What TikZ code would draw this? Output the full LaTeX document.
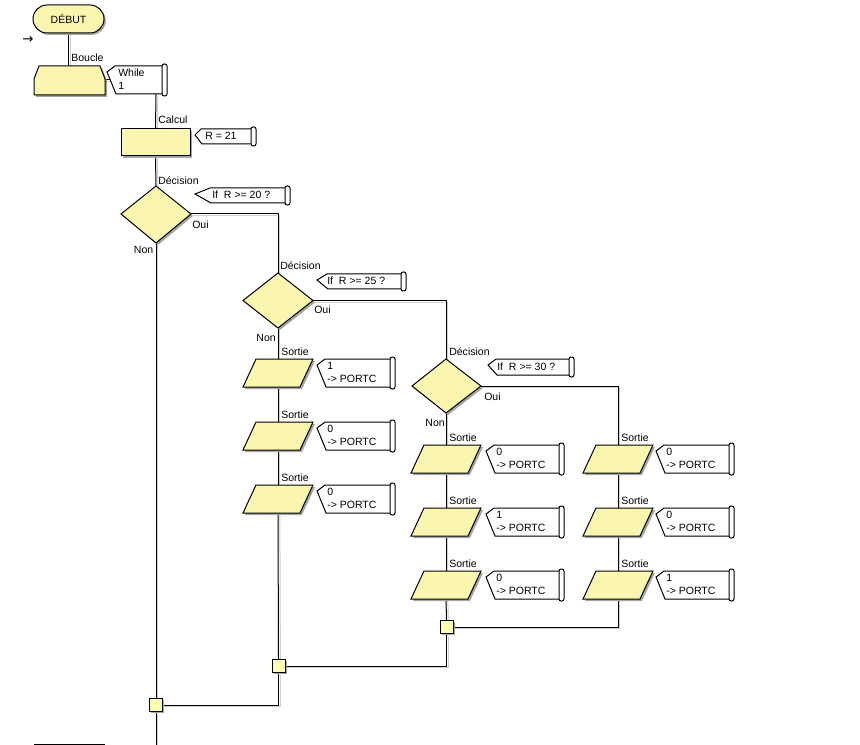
\documentclass[tikz,border=0pt]{standalone}
\usepackage{fontspec}
\setmainfont{Liberation Sans}
\newfontfamily\symfont{DejaVu Sans}
\usetikzlibrary{shapes.misc,shadows,backgrounds}
\definecolor{shapeY}{RGB}{250,246,176}
\definecolor{juncY}{RGB}{255,255,180}
\definecolor{shadowG}{RGB}{165,165,165}
\definecolor{lineSh}{RGB}{208,208,208}
\tikzset{
  shp/.style={draw=black, line width=0.75pt, fill=shapeY},
  shd/.style={fill=shadowG, draw=none},
  conn/.style={draw=black, line width=0.75pt,
    preaction={draw=lineSh, line width=0.75pt, transform canvas={xshift=1.4pt,yshift=-1.4pt}}},
  lbl/.style={font=\fontsize{7.9}{9}\selectfont, inner sep=0pt, anchor=base west},
  ann/.style={draw=black, line width=0.75pt, fill=white},
  junc/.style={draw=black, line width=0.75pt, fill=juncY, minimum size=9.75pt, inner sep=0pt,
    drop shadow={shadow xshift=1.4pt, shadow yshift=-1.4pt, fill=shadowG, opacity=1}},
}
% output parallelogram: name, centre x, top y
\newcommand\outp[3]{%
  \path[shd, shift={(2,2)}] (#2-22,#3) -- (#2+35,#3) -- (#2+22,#3+28) -- (#2-35,#3+28) -- cycle;
  \path[shp] (#2-22,#3) -- (#2+35,#3) -- (#2+22,#3+28) -- (#2-35,#3+28) -- cycle;
  \coordinate (#1-t) at (#2,#3);
  \coordinate (#1-b) at (#2,#3+28);
  \node[lbl] (#1-l) at (#2+3,#3-4) {Sortie};
}
% annotation: name, L, T, B, R, d
\newcommand\annbox[6]{%
  \path[ann] (#2+#6,#3) -- (#2,#3+6) -- (#2+#6+1,#4) -- (#5,#4) -- (#5,#3) -- cycle;
  \path[ann, rounded corners=1.6pt] (#5-1,#3-2) rectangle (#5+4,#4+2);
  \coordinate (#1-p) at (#2,#3+6);
}
% two-line annotation for outputs: name, L, T, value
\newcommand\annout[4]{%
  \annbox{#1}{#2}{#3}{#3+28}{#2+74}{8}
  \node[lbl] (#1-v) at (#2+10,#3+10) {#4};
  \node[lbl] (#1-w) at (#2+10,#3+23) {-> PORTC};
}
\begin{document}
\begin{tikzpicture}[x=0.75pt,y=-0.75pt]
\useasboundingbox (0,0) rectangle (860,745);

% start
\node[shp, rounded rectangle, minimum width=53.25pt, minimum height=21pt, inner sep=0pt,
  font=\fontsize{7.9}{9}\selectfont,
  drop shadow={shadow xshift=1.4pt, shadow yshift=-1.4pt, fill=shadowG, opacity=1}] (start) at (68.5,19) {DÉBUT};
\node[font=\symfont\fontsize{10}{11}\selectfont, inner sep=0pt] (arr) at (28,39.5) {→};

% loop
\path[shd, shift={(2,2)}] (39,66) -- (100,66) -- (105,79) -- (105,95) -- (34,95) -- (34,79) -- cycle;
\path[shp] (39,66) -- (100,66) -- (105,79) -- (105,95) -- (34,95) -- (34,79) -- cycle;
\coordinate (loop-t) at (68.5,66);
\coordinate (loop-e) at (105,80);
\node[lbl] (boucle) at (71,62) {Boucle};
\annbox{a0}{107}{66}{94}{163}{8}
\coordinate (a0-c) at (110.5,80);
\coordinate (a0-b) at (156,94);
\node[lbl] (a0-1) at (118,77) {While};
\node[lbl] (a0-2) at (118,90) {1};

% calcul
\node[shp, minimum width=51.75pt, minimum height=20.25pt, inner sep=0pt,
  drop shadow={shadow xshift=1.4pt, shadow yshift=-1.4pt, fill=shadowG, opacity=1}] (calc) at (155.5,142.5) {};
\node[lbl] (calcul) at (158,124) {Calcul};
\annbox{a1}{195}{129}{144}{252}{6}
\node[lbl] (a1-t) at (205,140) {R = 21};

% decision 1
\path[shd, shift={(2,2)}] (156,186) -- (191,214) -- (156,243) -- (121,214) -- cycle;
\path[shp] (156,186) -- (191,214) -- (156,243) -- (121,214) -- cycle;
\coordinate (d1-t) at (156,186);
\coordinate (d1-r) at (191,214);
\coordinate (d1-b) at (156,243);
\node[lbl] (d1-l) at (158,184.5) {Décision};
\annbox{a2}{195}{188}{203}{286}{15}
\node[lbl] (a2-t) at (212,198.5) {If\ \ R >= 20 ?};
\node[lbl] (d1-oui) at (192,229) {Oui};
\node[lbl, anchor=base east] (d1-non) at (153.5,254) {Non};

% decision 2
\path[shd, shift={(2,2)}] (278,273) -- (313,300.5) -- (278,328) -- (243,300.5) -- cycle;
\path[shp] (278,273) -- (313,300.5) -- (278,328) -- (243,300.5) -- cycle;
\coordinate (d2-t) at (278,273);
\coordinate (d2-r) at (313,300.5);
\coordinate (d2-b) at (278,328);
\node[lbl] (d2-l) at (280,269.5) {Décision};
\annbox{a3}{317}{274}{289}{402}{10}
\node[lbl] (a3-t) at (327,285) {If\ \ R >= 25 ?};
\node[lbl] (d2-oui) at (314,313.5) {Oui};
\node[lbl, anchor=base east] (d2-non) at (276,341) {Non};

% decision 3
\path[shd, shift={(2,2)}] (446,359) -- (481,386) -- (446,413) -- (412,386) -- cycle;
\path[shp] (446,359) -- (481,386) -- (446,413) -- (412,386) -- cycle;
\coordinate (d3-t) at (446,359);
\coordinate (d3-r) at (481,386);
\coordinate (d3-b) at (446,413);
\node[lbl] (d3-l) at (449,355.5) {Décision};
\annbox{a4}{488}{359}{375}{570}{8}
\node[lbl] (a4-t) at (497,370) {If\ \ R >= 30 ?};
\node[lbl] (d3-oui) at (484,400) {Oui};
\node[lbl, anchor=base east] (d3-non) at (445,426) {Non};

% outputs column 1
\outp{o11}{278}{359}
\outp{o12}{278}{422}
\outp{o13}{278}{485}
\annout{b11}{317}{359}{1}
\annout{b12}{317}{422}{0}
\annout{b13}{317}{485}{0}
% outputs column 2
\outp{o21}{446}{445}
\outp{o22}{446}{508}
\outp{o23}{446}{571}
\annout{b21}{486}{445}{0}
\annout{b22}{486}{508}{1}
\annout{b23}{486}{571}{0}
% outputs column 3
\outp{o31}{618}{445}
\outp{o32}{618}{508}
\outp{o33}{618}{571}
\annout{b31}{656}{445}{0}
\annout{b32}{656}{508}{0}
\annout{b33}{656}{571}{1}

% junctions
\node[junc] (j3) at (446.5,627) {};
\node[junc] (j2) at (278.5,666) {};
\node[junc] (j1) at (156,705) {};
\coordinate (endc) at (156,745);
\coordinate (blA) at (34,744);
\coordinate (blB) at (105,744);

\begin{scope}[on background layer]
\draw[conn] (start.south) -- (loop-t);
\draw[conn] (loop-e) -- (a0-c);
\draw[conn] (a0-b) -- (calc.north);
\draw[conn] (calc.south) -- (d1-t);
\draw[conn] (d1-b) -- (j1.north);
\draw[conn] (j1.south) -- (endc);
\draw[conn] (d1-r) -| (d2-t);
\draw[conn] (d2-b) -- (o11-t);
\draw[conn] (o11-b) -- (o12-t);
\draw[conn] (o12-b) -- (o13-t);
\draw[conn] (o13-b) -- (j2.north);
\draw[conn] (d2-r) -| (d3-t);
\draw[conn] (d3-b) -- (o21-t);
\draw[conn] (o21-b) -- (o22-t);
\draw[conn] (o22-b) -- (o23-t);
\draw[conn] (o23-b) -- (j3.north);
\draw[conn] (d3-r) -| (o31-t);
\draw[conn] (o31-b) -- (o32-t);
\draw[conn] (o32-b) -- (o33-t);
\draw[conn] (o33-b) |- (j3.east);
\draw[conn] (j3.south) |- (j2.east);
\draw[conn] (j2.south) |- (j1.east);
\draw[line width=0.75pt] (blA) -- (blB);
\end{scope}
\end{tikzpicture}
\end{document}
